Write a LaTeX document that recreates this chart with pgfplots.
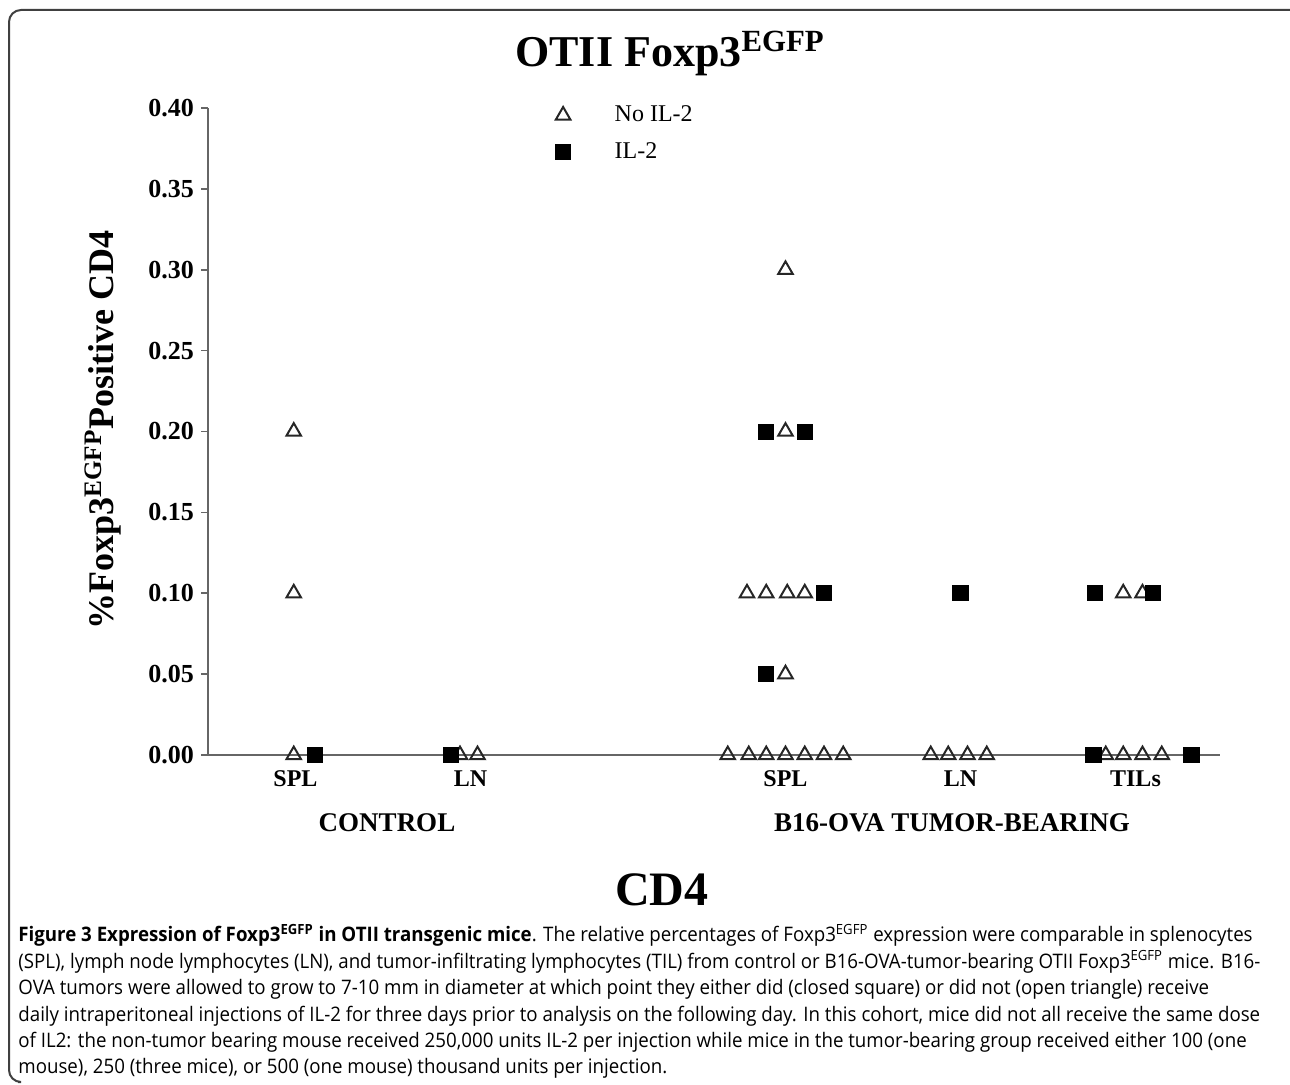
\documentclass[border=0pt]{standalone}
\usepackage{fontspec}
\setmainfont{Liberation Serif}
\newfontfamily\capfont[FakeStretch=0.935]{Open Sans}
\usepackage{pgfplots}
\pgfplotsset{compat=1.18}

\begin{document}
\begin{tikzpicture}
\useasboundingbox (0,0) rectangle (645pt,542pt);

\begin{axis}[
    at={(104pt,164.5pt)}, anchor=south west,
    scale only axis, width=506pt, height=323.5pt,
    xmin=0, xmax=57.83, ymin=0, ymax=0.4,
    axis x line*=bottom, axis y line*=left,
    axis line style={draw=black!60, line width=0.8pt},
    clip=false,
    xtick={5,15,33,43,53},
    xticklabels={SPL,LN,SPL,LN,TILs},
    x tick style={draw=none},
    xticklabel style={font=\fontsize{12}{14}\selectfont\bfseries, yshift=-1pt},
    ytick={0,0.05,...,0.4},
    y tick style={draw=black!60, line width=0.8pt},
    tick align=outside, major tick length=3.5pt,
    yticklabel style={font=\fontsize{13}{15}\selectfont\bfseries,
        /pgf/number format/fixed, /pgf/number format/fixed zerofill,
        /pgf/number format/precision=2,
        /pgf/number format/assume math mode=true},
    legend style={at={(0.343,1.01)}, anchor=north west, draw=none, fill=none,
        font=\fontsize{12}{14}\selectfont, row sep=5pt, column sep=20pt,
        inner sep=0pt},
    legend cell align=left,
    ]
    % no IL-2 (open triangles)
    \addplot[only marks, mark=triangle, mark size=4.2pt,
        mark options={draw=black!85, line width=1pt, fill=white}] coordinates {
        (4.9,0.2) (4.9,0.1) (4.9,0)
        (14.4,0) (15.4,0)
        (33.0,0.3) (33.0,0.2)
        (30.8,0.1) (31.9,0.1) (33.1,0.1) (34.1,0.1)
        (33.0,0.05)
        (29.7,0) (30.9,0) (31.9,0) (33.0,0) (34.1,0) (35.2,0) (36.3,0)
        (41.3,0) (42.3,0) (43.4,0) (44.5,0)
        (52.3,0.1) (53.4,0.1)
        (51.3,0) (52.3,0) (53.4,0) (54.5,0) };
    \addlegendentry{No IL-2}
    % IL-2 (filled squares)
    \addplot[only marks, mark=square*, mark size=3.8pt,
        mark options={draw=black, fill=black}] coordinates {
        (6.1,0) (13.9,0)
        (31.9,0.2) (34.1,0.2) (35.2,0.1) (31.9,0.05)
        (43.0,0.1)
        (50.7,0.1) (54.0,0.1) (50.6,0) (56.2,0) };
    \addlegendentry{IL-2}
\end{axis}

\begin{scope}[x=0.5pt, y=-0.5pt, yshift=542pt]
  % frame
  \draw[black!75, line width=1pt, rounded corners=6pt]
    (18,1082) -- (9,1082) -- (9,10) -- (1290,10);
  % title
  \node[anchor=base, font=\fontsize{22}{26}\selectfont\bfseries] at (670,67)
    {OTII Foxp3\textsuperscript{EGFP}};
  % y label
  \node[rotate=90, font=\fontsize{18}{21}\selectfont\bfseries] at (103,430)
    {\%Foxp3\textsuperscript{EGFP}Positive CD4};
  % group labels
  \node[font=\fontsize{13.5}{16}\selectfont\bfseries] at (387,823) {CONTROL};
  \node[font=\fontsize{13.5}{16}\selectfont\bfseries] at (952,823) {B16-OVA TUMOR-BEARING};
  \node[font=\fontsize{24}{28}\selectfont\bfseries] at (662,890) {CD4};
  % caption
  \node[anchor=north west, align=left, inner sep=0pt,
        font=\capfont\fontsize{10}{13.2}\selectfont] at (18,924) {%
    \textbf{Figure 3 Expression of Foxp3\textsuperscript{EGFP} in OTII transgenic mice}. The relative percentages of Foxp3\textsuperscript{EGFP} expression were comparable in splenocytes\\
    (SPL), lymph node lymphocytes (LN), and tumor-infiltrating lymphocytes (TIL) from control or B16-OVA-tumor-bearing OTII Foxp3\textsuperscript{EGFP} mice. B16-\\
    OVA tumors were allowed to grow to 7-10 mm in diameter at which point they either did (closed square) or did not (open triangle) receive\\
    daily intraperitoneal injections of IL-2 for three days prior to analysis on the following day. In this cohort, mice did not all receive the same dose\\
    of IL2: the non-tumor bearing mouse received 250,000 units IL-2 per injection while mice in the tumor-bearing group received either 100 (one\\
    mouse), 250 (three mice), or 500 (one mouse) thousand units per injection.};
\end{scope}
\end{tikzpicture}
\end{document}
